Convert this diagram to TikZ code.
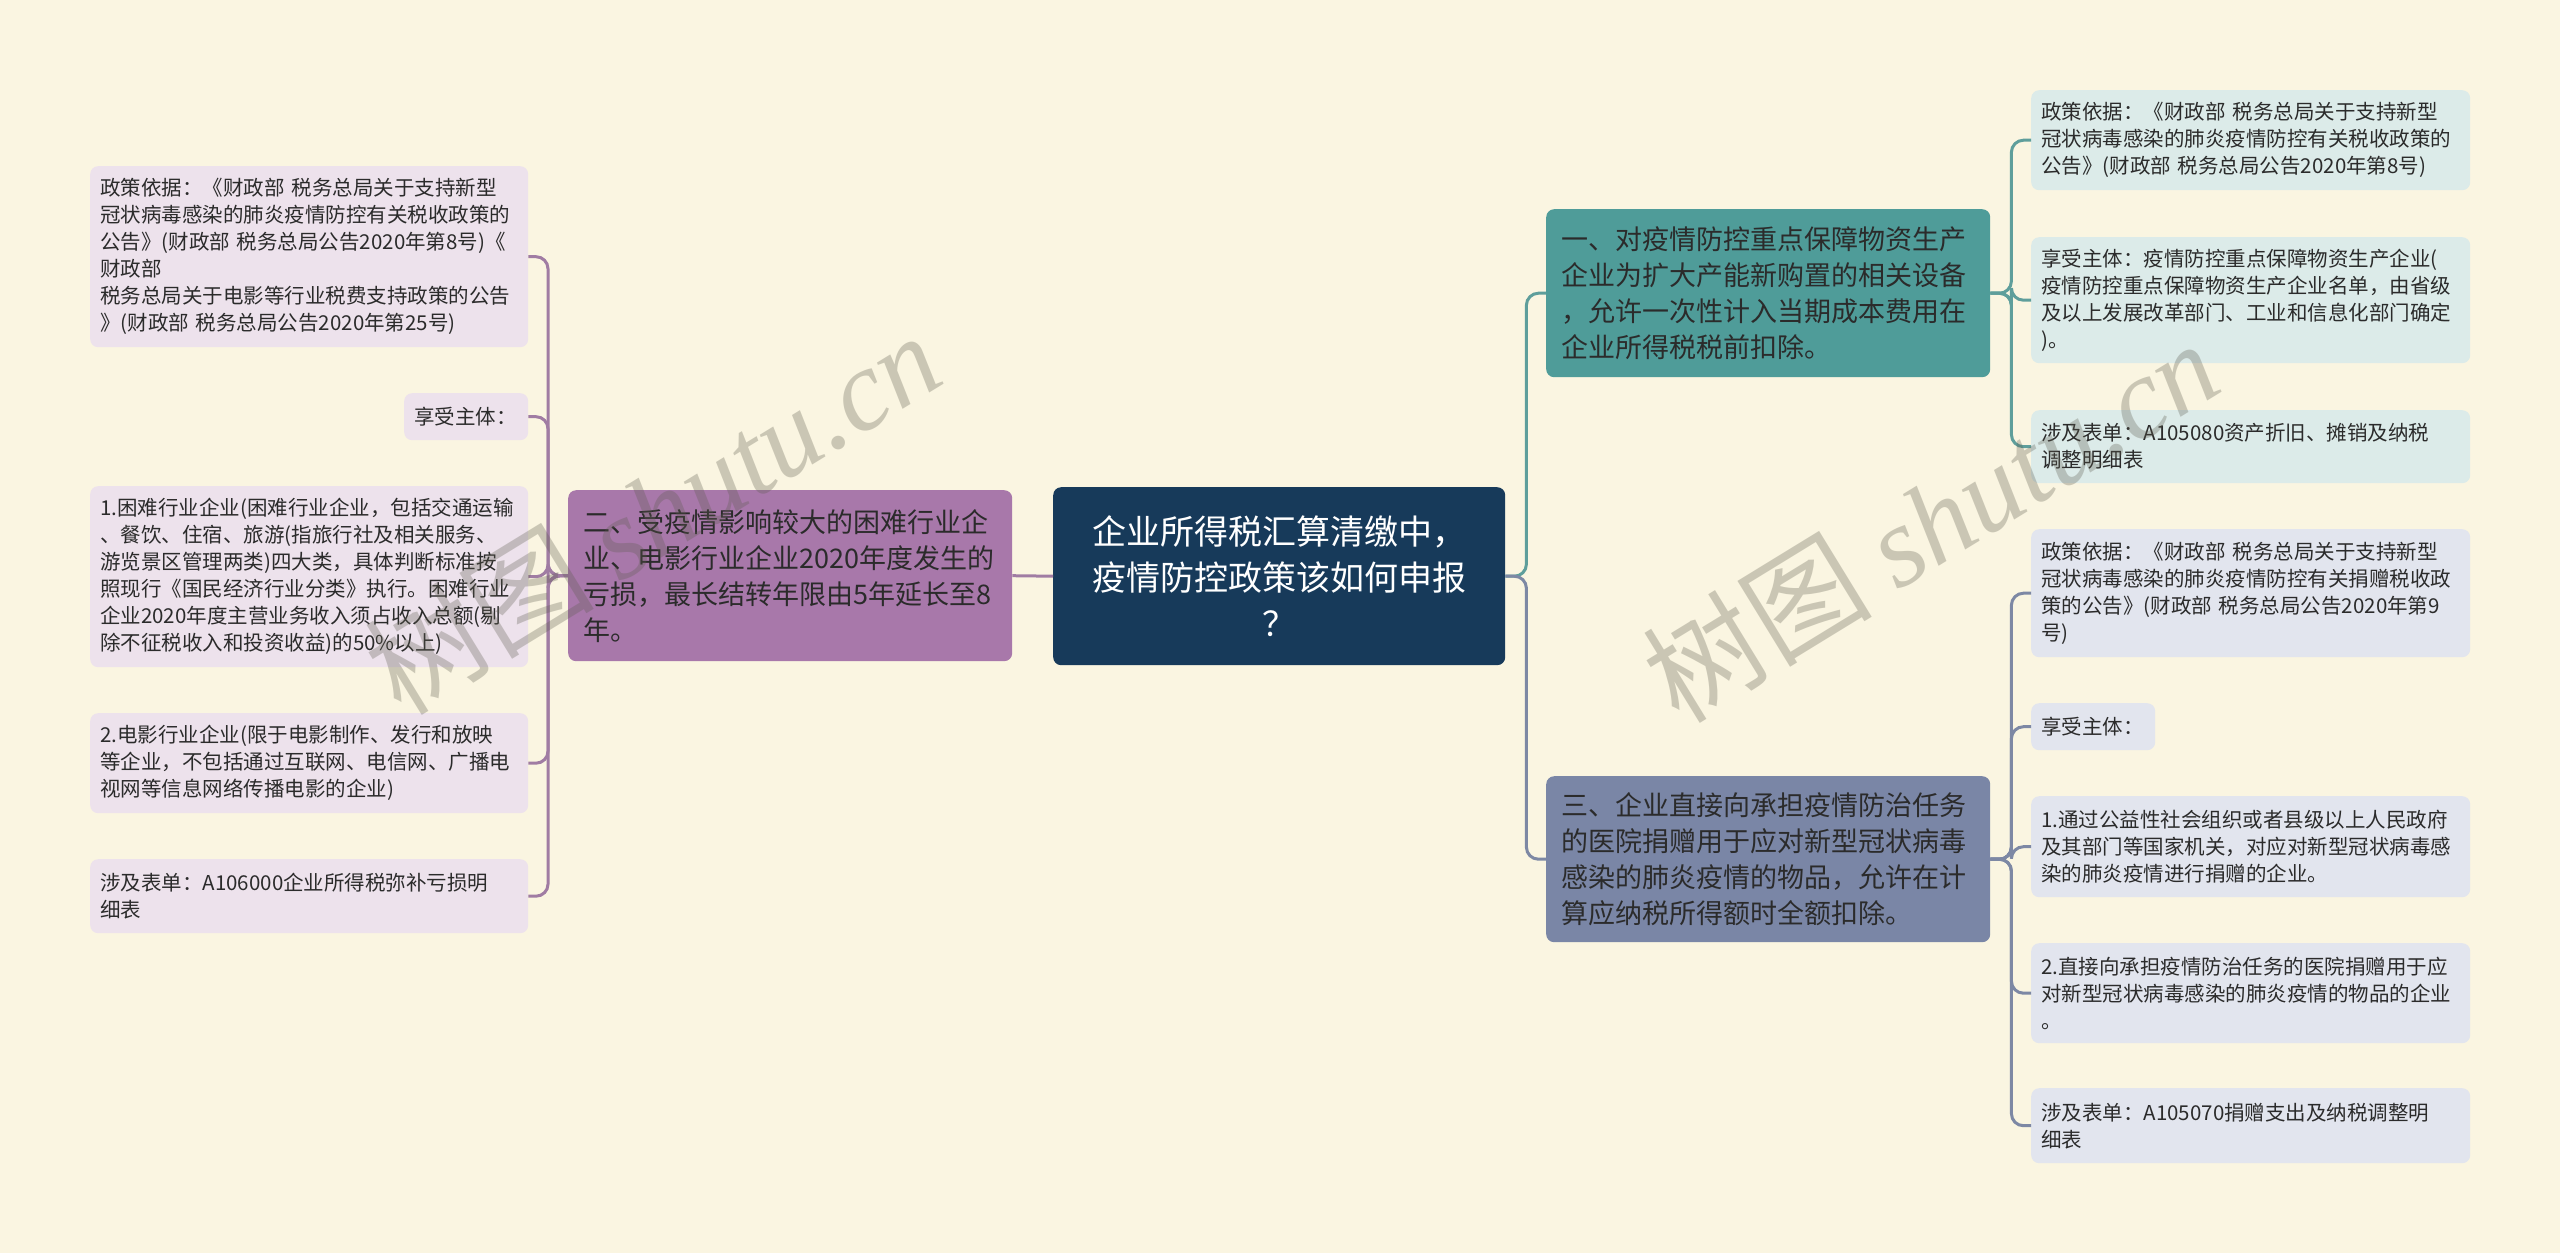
\documentclass[tikz,border=0pt]{standalone}
\usepackage{fontspec}
\setmainfont{Noto Sans CJK SC}
\newfontfamily\wmlatin{Liberation Serif}
\definecolor{bgc}{HTML}{FAF5E1}
\definecolor{rootfill}{HTML}{173A5A}
\definecolor{pfill}{HTML}{A878AA}
\definecolor{tfill}{HTML}{4F9C99}
\definecolor{sfill}{HTML}{7A86A6}
\definecolor{lfill}{HTML}{EDE2EC}
\definecolor{rfill}{HTML}{DCEBE9}
\definecolor{sleaf}{HTML}{E2E5EE}
\definecolor{pconn}{HTML}{A07CA3}
\definecolor{tconn}{HTML}{5E9E9B}
\definecolor{sconn}{HTML}{7D88A4}
\definecolor{txt}{HTML}{2B2B2B}
\definecolor{wmgray}{HTML}{5E5C4E}
\begin{document}
\begin{tikzpicture}[x=1pt,y=-1pt,
  box/.style={rounded corners=8, inner ysep=0pt, anchor=north west, align=left, text=txt},
  leafbox/.style={box, inner xsep=10pt, font=\fontsize{20.5}{27}\selectfont},
  leafL/.style={leafbox, fill=lfill},
  leafR/.style={leafbox, fill=rfill},
  leafS/.style={leafbox, fill=sleaf},
  midbox/.style={box, inner xsep=15pt, text width=414pt, font=\fontsize{27}{36}\selectfont},
  conn/.style={line width=3pt, rounded corners=12pt},
  wm/.style={text=wmgray, text opacity=0.3, font=\fontsize{115}{115}\selectfont, inner sep=0pt}
]
\useasboundingbox (0,0) rectangle (2560,1253);
\fill[bgc] (0,0) rectangle (2560,1253);

% root
\node[box, fill=rootfill, text=white, align=center, inner xsep=16pt, text width=420pt,
      minimum height=178pt, font=\fontsize{34}{46}\selectfont] (root) at (1053,487)
  {企业所得税汇算清缴中，\\疫情防控政策该如何申报\\？};

% level one
\node[midbox, fill=pfill, minimum height=171pt] (P) at (568,490)
  {二、受疫情影响较大的困难行业企\\业、电影行业企业2020年度发生的\\亏损，最长结转年限由5年延长至8\\年。};
\node[midbox, fill=tfill, minimum height=168pt] (T) at (1546,209)
  {一、对疫情防控重点保障物资生产\\企业为扩大产能新购置的相关设备\\，允许一次性计入当期成本费用在\\企业所得税税前扣除。};
\node[midbox, fill=sfill, minimum height=166pt] (S) at (1546,776)
  {三、企业直接向承担疫情防治任务\\的医院捐赠用于应对新型冠状病毒\\感染的肺炎疫情的物品，允许在计\\算应纳税所得额时全额扣除。};

% left leaves
\node[leafL, text width=418pt, minimum height=181pt] (L1) at (90,166)
  {政策依据：《财政部 税务总局关于支持新型\\冠状病毒感染的肺炎疫情防控有关税收政策的\\公告》(财政部 税务总局公告2020年第8号)《\\财政部\\税务总局关于电影等行业税费支持政策的公告\\》(财政部 税务总局公告2020年第25号)};
\node[leafL, text width=104pt, minimum height=47pt] (L2) at (404,393)
  {享受主体：};
\node[leafL, text width=418pt, minimum height=181pt] (L3) at (90,486)
  {1.困难行业企业(困难行业企业，包括交通运输\\、餐饮、住宿、旅游(指旅行社及相关服务、\\游览景区管理两类)四大类，具体判断标准按\\照现行《国民经济行业分类》执行。困难行业\\企业2020年度主营业务收入须占收入总额(剔\\除不征税收入和投资收益)的50\%以上)};
\node[leafL, text width=418pt, minimum height=100pt] (L4) at (90,713)
  {2.电影行业企业(限于电影制作、发行和放映\\等企业，不包括通过互联网、电信网、广播电\\视网等信息网络传播电影的企业)};
\node[leafL, text width=418pt, minimum height=74pt] (L5) at (90,859)
  {涉及表单：A106000企业所得税弥补亏损明\\细表};

% right teal leaves
\node[leafR, text width=419pt, minimum height=100pt] (R1) at (2031,90)
  {政策依据：《财政部 税务总局关于支持新型\\冠状病毒感染的肺炎疫情防控有关税收政策的\\公告》(财政部 税务总局公告2020年第8号)};
\node[leafR, text width=419pt, minimum height=126pt] (R2) at (2031,237)
  {享受主体：疫情防控重点保障物资生产企业(\\疫情防控重点保障物资生产企业名单，由省级\\及以上发展改革部门、工业和信息化部门确定\\)。};
\node[leafR, text width=419pt, minimum height=73pt] (R3) at (2031,410)
  {涉及表单：A105080资产折旧、摊销及纳税\\调整明细表};

% right slate leaves
\node[leafS, text width=419pt, minimum height=128pt] (S1) at (2031,529)
  {政策依据：《财政部 税务总局关于支持新型\\冠状病毒感染的肺炎疫情防控有关捐赠税收政\\策的公告》(财政部 税务总局公告2020年第9\\号)};
\node[leafS, text width=104pt, minimum height=47pt] (S2) at (2031,703)
  {享受主体：};
\node[leafS, text width=419pt, minimum height=101pt] (S3) at (2031,796)
  {1.通过公益性社会组织或者县级以上人民政府\\及其部门等国家机关，对应对新型冠状病毒感\\染的肺炎疫情进行捐赠的企业。};
\node[leafS, text width=419pt, minimum height=100pt] (S4) at (2031,943)
  {2.直接向承担疫情防治任务的医院捐赠用于应\\对新型冠状病毒感染的肺炎疫情的物品的企业\\。};
\node[leafS, text width=419pt, minimum height=75pt] (S5) at (2031,1088)
  {涉及表单：A105070捐赠支出及纳税调整明\\细表};

% connectors
\draw[conn, pconn] (root.west) -- (P.east);
\draw[conn, tconn] (root.east) -- ++(21,0) |- (T.west);
\draw[conn, sconn] (root.east) -- ++(21,0) |- (S.west);
\foreach \n in {L1,L2,L3,L4,L5}
  \draw[conn, pconn] (P.west) -- ++(-20,0) |- (\n.east);
\foreach \n in {R1,R2,R3}
  \draw[conn, tconn] (T.east) -- ++(21,0) |- (\n.west);
\foreach \n in {S1,S2,S3,S4,S5}
  \draw[conn, sconn] (S.east) -- ++(21,0) |- (\n.west);

% watermarks
\node[wm, rotate=31.5] (wm1) at (652,512) {树图 {\wmlatin\itshape shutu.cn}};
\node[wm, rotate=31.5] (wm2) at (1930,520) {树图 {\wmlatin\itshape shutu.cn}};
\end{tikzpicture}
\end{document}
